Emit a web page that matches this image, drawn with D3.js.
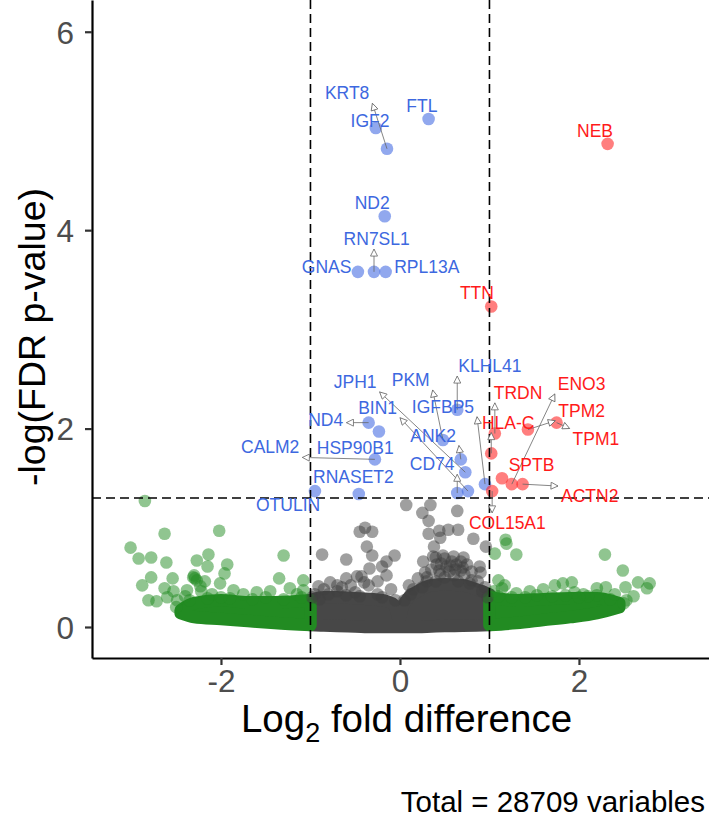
<!DOCTYPE html>
<html>
<head>
<meta charset="utf-8">
<script src="https://cdn.jsdelivr.net/npm/d3@7"></script>
<style>
  body { margin: 0; background: #fff; }
  svg { display: block; font-family: "Liberation Sans", Arial, sans-serif; }
</style>
</head>
<body>
<div id="chart"></div>
<script>
// Labelled genes (log2 fold, -log p) and where their labels sit
const geneNames = ["KRT8", "IGF2", "FTL", "ND2", "GNAS", "RN7SL1", "RPL13A", "KLHL41", "PKM",
  "ND4", "HSP90B1", "CALM2", "ANK2", "JPH1", "BIN1", "CD74", "IGFBP5", "RNASET2", "OTULIN",
  "NEB", "TTN", "TRDN", "HLA-C", "TPM2", "TPM1", "ENO3", "SPTB", "ACTN2", "COL15A1"];
const geneFC = [-0.145, -0.27, 0.32, -0.17, -0.47, -0.29, -0.16, 0.64, 0.48,
  -0.35, -0.235, -0.28, 0.68, 0.73, 0.76, 0.64, 0.95, -0.46, -0.95,
  2.32, 1.02, 1.06, 1.02, 1.43, 1.75, 1.25, 1.14, 1.37, 1.03];
const geneP = [4.82, 5.03, 5.12, 4.14, 3.58, 3.58, 3.58, 2.19, 1.885,
  2.06, 1.97, 1.69, 1.69, 1.56, 1.37, 1.35, 1.44, 1.34, 1.37,
  4.87, 3.23, 1.95, 1.75, 1.99, 2.06, 1.44, 1.50, 1.44, 1.37];
const labelFC = [-0.59, -0.335, 0.245, -0.31, -0.82, -0.26, 0.30, 1.005, 0.12,
  -0.83, -0.50, -1.45, 0.37, -0.50, -0.25, 0.36, 0.48, -0.52, -1.25,
  2.18, 0.86, 1.32, 1.21, 2.03, 2.19, 2.03, 1.47, 2.12, 1.20];
const labelP = [5.38, 5.10, 5.25, 4.27, 3.63, 3.91, 3.63, 2.63, 2.49,
  2.09, 1.80, 1.81, 1.93, 2.47, 2.21, 1.64, 2.22, 1.51, 1.23,
  5.00, 3.37, 2.36, 2.06, 2.18, 1.90, 2.45, 1.63, 1.32, 1.05];
const withArrow = ["KRT8", "RN7SL1", "KLHL41", "PKM", "JPH1", "BIN1", "IGFBP5", "ND4", "CALM2",
  "ANK2", "CD74", "TRDN", "HLA-C", "TPM2", "TPM1", "ENO3", "ACTN2", "COL15A1"];

// scattered background genes [log2 fold, -log p]
const grayPts = [[0.07,1.23],[0.25,1.15],[0.34,1.23],[0.64,1.17],[0.32,1.07],[-0.39,1.00],[-0.45,0.96],
  [-0.31,0.96],[0.44,0.97],[0.54,0.98],[0.65,0.98],[0.45,0.90],[0.82,0.89],[-0.37,0.81],[-0.87,0.73],
  [-0.60,0.68],[-0.31,0.72],[-0.06,0.72],[0.96,0.81],[0.38,0.81],[0.26,0.66],[-0.34,0.59],[-0.15,0.66],
  [-0.20,0.61],[-0.43,0.51],[-0.15,0.52],[0.20,0.49],[0.30,0.46],[0.89,0.61],[0.87,0.46],[0.37,0.71],
  [0.48,0.72],[0.60,0.71],[0.71,0.70],[0.41,0.63],[0.52,0.61],[0.63,0.63],[0.75,0.63],[-0.78,0.45],
  [-0.60,0.49],[-0.48,0.51],[-0.91,0.41],[0.32,0.94],[-0.95,0.33],[-0.7,0.36],[-0.5,0.35],[-0.25,0.33],
  [0.15,0.38],[0.3,0.50],[0.6,0.52],[0.8,0.47],[0.95,0.40],[0.9,0.55],[0.1,0.42],[-0.1,0.38],[-0.85,0.38],
  [0.55,0.56],[0.68,0.57],[0.45,0.53],[-0.65,0.40],[-0.35,0.42],
  [-0.98,0.30],[-0.9,0.28],[-0.8,0.33],[-0.6,0.32],[-0.45,0.31],[-0.2,0.30],[-0.05,0.27],[0.05,0.27],
  [0.12,0.33],[0.25,0.40],[0.4,0.46],[0.65,0.46],[0.78,0.44],[0.92,0.36],[0.98,0.30],[0.72,0.53],[0.5,0.50],
  [0.40,0.70],[0.50,0.69],[0.58,0.66],[0.68,0.66],[0.46,0.64],[0.56,0.62],[0.70,0.60],[0.35,0.58],
  [0.62,0.58],[0.44,0.57],[0.80,0.56],[0.28,0.55],[-0.40,0.45],[-0.55,0.42],[-0.25,0.46],[-0.70,0.42]];
const greenPts = [[-2.85,1.27],[-3.01,0.80],[-2.63,0.94],[-2.02,0.97],[-2.92,0.69],[-2.78,0.70],
  [-2.61,0.65],[-2.27,0.67],[-2.14,0.73],[-2.15,0.61],[-1.93,0.63],[-1.96,0.54],[-1.30,0.72],[-2.88,0.42],
  [-2.78,0.50],[-2.54,0.49],[-2.29,0.49],[-2.31,0.50],[-2.27,0.47],[-2.30,0.52],[-2.18,0.46],[-2.63,0.39],
  [-2.81,0.27],[-2.72,0.26],[-2.53,0.36],[-2.38,0.37],[-2.01,0.44],[-1.35,0.49],[-1.08,0.47],[-1.23,0.39],
  [-1.45,0.36],[-1.86,0.37],[-2.49,0.27],[-2.23,0.41],[-2.22,0.36],[-1.08,0.37],[-1.6,0.35],[-1.75,0.33],
  [-2.1,0.33],[-1.15,0.33],[-2.6,0.30],[-2.4,0.31],
  [-2.5,0.20],[-2.35,0.27],[-2.15,0.29],[-1.9,0.29],[-1.65,0.28],[-1.3,0.28],[-1.1,0.30],[-2.0,0.30],[-1.5,0.30],
  [1.18,0.88],[1.19,0.84],[1.06,0.74],[1.30,0.73],[2.29,0.73],[2.49,0.57],[1.10,0.47],[1.17,0.42],
  [1.14,0.39],[1.73,0.42],[1.82,0.44],[1.92,0.45],[2.20,0.39],[2.30,0.40],[2.66,0.45],[2.79,0.44],
  [2.52,0.40],[2.76,0.39],[1.53,0.32],[2.53,0.27],[2.61,0.31],[1.3,0.34],[1.45,0.36],[1.95,0.35],
  [2.05,0.33],[2.4,0.33],[1.05,0.36],[1.6,0.38],[2.2,0.32],
  [1.1,0.31],[1.25,0.30],[1.4,0.30],[1.7,0.31],[1.85,0.32],[2.1,0.31],[2.35,0.28],[2.5,0.24],[2.0,0.30]];

// outline of the dense cores: [log2 fold, low -log p, high -log p]
const grayCore = [[-1.0,0.02,0.27],[-0.85,0.015,0.30],[-0.7,0.01,0.30],[-0.5,0.005,0.29],[-0.3,0.0,0.28],
  [-0.15,0.0,0.26],[-0.06,0.0,0.22],[-0.01,0.0,0.08],[0.03,0.0,0.2],[0.1,0.0,0.30],[0.2,0.0,0.36],
  [0.35,0.005,0.42],[0.5,0.01,0.43],[0.7,0.012,0.42],[0.85,0.015,0.38],[1.0,0.02,0.33]];
const greenLeftCore = [[-2.45,0.14,0.17],[-2.3,0.10,0.24],[-2.0,0.08,0.27],[-1.7,0.06,0.25],
  [-1.4,0.04,0.25],[-1.0,0.02,0.27]];
const greenRightCore = [[1.0,0.02,0.30],[1.3,0.04,0.27],[1.6,0.07,0.28],[1.9,0.10,0.29],
  [2.2,0.14,0.29],[2.45,0.20,0.24]];

const fcCut = 1, pCut = 1.301;
const xTicks = [-2, 0, 2], yTicks = [0, 2, 4, 6];

const width = 709, height = 817;
const margin = {top: 0, right: 0, bottom: 159, left: 92};
const pw = width - margin.left - margin.right, ph = height - margin.top - margin.bottom;
const r = 6.3;

const svg = d3.select("#chart").append("svg")
    .attr("width", width).attr("height", height);

const defs = svg.append("defs");
defs.append("marker")
    .attr("id", "arr").attr("viewBox", "-8 -4 9 8")
    .attr("refX", 0).attr("refY", 0)
    .attr("markerWidth", 9).attr("markerHeight", 8)
    .attr("markerUnits", "userSpaceOnUse").attr("orient", "auto")
  .append("path")
    .attr("d", "M0,0L-7,-3.5L-7,3.5Z")
    .attr("fill", "#fff").attr("stroke", "#666").attr("stroke-width", 0.8);

const g = svg.append("g").attr("transform", `translate(${margin.left},${margin.top})`);

const x = d3.scaleLinear().domain([-3.441, 3.453]).range([0, pw]);
const y = d3.scaleLinear().domain([-0.3125, 6.32]).range([ph, 0]);

function colourOf(fc, p) {
  if (p > pCut) return Math.abs(fc) > fcCut ? "#ff2020" : "royalblue";
  return Math.abs(fc) > fcCut ? "forestgreen" : "#404040";
}

// dense cores: area of point centres, stroked with point diameter
const area = d3.area().x(d => x(d[0])).y0(d => y(d[1])).y1(d => y(d[2])).curve(d3.curveMonotoneX);
[[grayCore, "#474747"], [greenLeftCore, "#228b22"], [greenRightCore, "#228b22"]].forEach(([core, c]) => {
  g.append("path").datum(core).attr("d", area)
    .attr("fill", c).attr("stroke", c).attr("stroke-width", 2 * r)
    .attr("stroke-linejoin", "round");
});

const bg = grayPts.concat(greenPts);
g.append("g").selectAll("circle").data(bg).join("circle")
    .attr("cx", d => x(d[0])).attr("cy", d => y(d[1])).attr("r", r)
    .attr("fill", d => colourOf(d[0], d[1])).attr("fill-opacity", 0.5);

const genes = geneNames.map((n, i) => ({name: n, fc: geneFC[i], p: geneP[i], lx: labelFC[i], ly: labelP[i]}));

g.append("g").selectAll("circle").data(genes).join("circle")
    .attr("cx", d => x(d.fc)).attr("cy", d => y(d.p)).attr("r", r)
    .attr("fill", d => colourOf(d.fc, d.p)).attr("fill-opacity", 0.58);

// threshold lines
const dash = "9,5";
g.append("g").selectAll("line").data([-fcCut, fcCut]).join("line")
    .attr("x1", d => x(d)).attr("x2", d => x(d)).attr("y1", 0).attr("y2", ph)
    .attr("stroke", "#000").attr("stroke-width", 1.6).attr("stroke-dasharray", dash);
g.append("line")
    .attr("x1", 0).attr("x2", pw).attr("y1", y(pCut)).attr("y2", y(pCut))
    .attr("stroke", "#000").attr("stroke-width", 1.6).attr("stroke-dasharray", dash);

// labels and their arrows
const labG = g.append("g");
const segG = labG.append("g");
const texts = labG.selectAll("text").data(genes).join("text")
    .attr("x", d => x(d.lx)).attr("y", d => y(d.ly) + 6)
    .attr("text-anchor", "middle")
    .attr("font-size", 17.5)
    .attr("fill", d => Math.abs(d.fc) > fcCut ? "#ff1a1a" : "#3d68e0")
    .text(d => d.name);

texts.each(function(d) {
  if (!withArrow.includes(d.name)) return;
  const b = this.getBBox();
  const pad = 3;
  const x0 = b.x - pad, x1 = b.x + b.width + pad;
  const cy = y(d.ly);
  const y0 = cy - 7 - pad, y1 = cy + 7 + pad;
  const px = x(d.fc), py = y(d.p);
  const ex = Math.max(x0, Math.min(px, x1)), ey = Math.max(y0, Math.min(py, y1));
  segG.append("line")
    .attr("x1", px).attr("y1", py).attr("x2", ex).attr("y2", ey)
    .attr("stroke", "#666").attr("stroke-width", 0.8)
    .attr("marker-end", "url(#arr)");
});

// axes
const xAxis = g.append("g").attr("transform", `translate(0,${ph})`)
    .call(d3.axisBottom(x).tickValues(xTicks).tickSize(7).tickSizeOuter(0).tickPadding(6).tickFormat(d => String(d)));
const yAxis = g.append("g")
    .call(d3.axisLeft(y).tickValues(yTicks).tickSize(7).tickSizeOuter(0).tickPadding(11).tickFormat(d => String(d)));
[xAxis, yAxis].forEach(a => {
  a.select(".domain").attr("stroke", "#000").attr("stroke-width", 2.2);
  a.selectAll(".tick line").attr("stroke", "#333").attr("stroke-width", 2.2);
  a.selectAll(".tick text").attr("fill", "#4d4d4d").attr("font-size", 31.5)
    .attr("font-family", "Liberation Sans, Arial, sans-serif");
});
yAxis.selectAll(".tick text").attr("dy", "0.36em");
xAxis.selectAll(".tick text").attr("dy", "0.66em");

// titles
const xt = svg.append("text")
    .attr("x", margin.left + pw / 2 + 6).attr("y", 732)
    .attr("text-anchor", "middle").attr("font-size", 38.5).attr("fill", "#000");
xt.append("tspan").text("Log");
xt.append("tspan").attr("font-size", 27).attr("dy", 10).text("2");
xt.append("tspan").attr("dy", -10).text(" fold difference");

svg.append("text")
    .attr("transform", `translate(45,${ph / 2 + 8}) rotate(-90)`)
    .attr("text-anchor", "middle").attr("font-size", 37.5).attr("fill", "#000")
    .text("-log(FDR p-value)");

svg.append("text")
    .attr("x", 705).attr("y", 812)
    .attr("text-anchor", "end").attr("font-size", 29.5).attr("fill", "#000")
    .text("Total = 28709 variables");
</script>
</body>
</html>
